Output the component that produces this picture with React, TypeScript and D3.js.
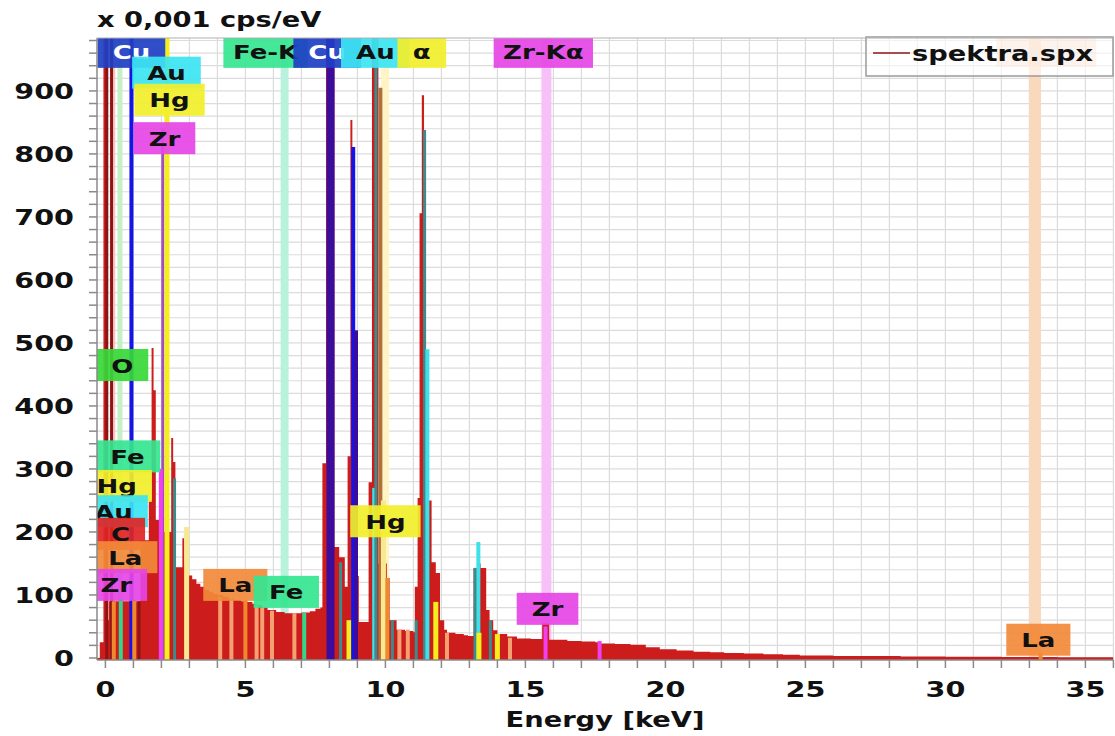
import React from 'react'
import * as d3 from 'd3'

// spectrum: [keV, counts] (step after)
const spectrum: [number, number][] = [
  [-0.3, 0], [-0.2, 25], [-0.07, 984], [0.05, 60], [0.12, 90], [1.25, 187],
  [1.55, 250], [1.65, 492], [1.72, 425], [1.8, 219], [2.05, 200], [2.35, 349],
  [2.42, 311], [2.5, 144], [2.7, 144], [2.75, 190], [2.82, 150], [2.95, 131],
  [3.1, 125], [3.25, 118], [3.39, 113], [3.55, 108], [3.7, 105], [3.85, 102],
  [4.0, 100], [4.21, 97], [4.4, 94], [4.6, 92], [4.85, 90], [5.07, 89],
  [5.25, 86], [5.4, 84], [5.6, 80], [5.79, 76], [6.1, 73], [6.4, 71],
  [6.61, 71], [7.0, 72], [7.3, 74], [7.5, 78], [7.68, 80], [7.75, 309],
  [7.88, 984], [8.18, 176], [8.35, 160], [8.55, 113], [8.65, 320], [8.75, 854],
  [8.82, 520], [8.9, 420], [9.0, 130], [9.05, 57], [9.4, 279], [9.52, 984],
  [9.75, 150], [9.85, 150], [10.05, 127], [10.15, 60], [10.4, 45], [10.7, 43],
  [11.0, 41], [11.05, 113], [11.15, 254], [11.22, 706], [11.3, 893], [11.38, 636],
  [11.45, 400], [11.55, 250], [11.65, 152], [11.8, 135], [11.95, 60], [12.1, 45],
  [12.2, 40], [12.5, 38], [12.8, 36], [12.95, 35], [13.15, 143], [13.3, 150],
  [13.4, 143], [13.6, 76], [13.72, 60], [13.85, 44], [14.0, 38], [14.35, 34],
  [14.7, 31], [15.2, 30], [15.6, 55], [15.85, 29], [16.5, 27], [17.0, 26],
  [17.5, 25], [17.6, 27], [17.7, 23], [18.2, 22], [18.75, 21], [19.3, 17],
  [19.8, 14], [20.4, 12], [21, 10], [21.6, 9], [22.1, 8], [22.8, 7], [23.5, 6],
  [24.2, 5], [24.8, 4], [26, 3], [27.2, 3], [28.4, 2.5], [30, 2], [32, 1.5],
  [34, 1], [36, 1]
]

// element line markers: [keV, counts, kind]
const lineMarkers: [number, number, string][] = [
  [0.05, 984, 'darkred'], [0.22, 984, 'darkred'], [0.3, 90, 'la'], [0.55, 92, 'fe'],
  [0.93, 984, 'cuL'], [1.03, 92, 'la'], [1.2, 90, 'darkred'], [2.05, 840, 'zr'],
  [1.98, 300, 'zrP'], [2.2, 984, 'hg'], [2.47, 285, 'auD'], [2.9, 208, 'hgL'],
  [4.1, 97, 'laL'], [4.5, 95, 'laL'], [5.0, 92, 'la'], [5.4, 84, 'laL'],
  [5.6, 80, 'laL'], [5.95, 75, 'laL'], [6.75, 71, 'laL'], [7.1, 72, 'fe'],
  [8.04, 984, 'cuK'], [8.4, 152, 'auD'], [8.7, 60, 'hg'], [8.85, 811, 'cuL'],
  [8.95, 520, 'cuKb'], [9.6, 270, 'au'], [9.66, 984, 'auD'], [9.82, 905, 'brown'],
  [9.93, 250, 'hgL'], [10.07, 127, 'la'], [10.25, 60, 'auD'], [10.5, 45, 'laL'],
  [10.8, 45, 'laL'], [11.1, 60, 'auD'], [11.4, 838, 'auD'], [11.5, 490, 'au'],
  [11.8, 89, 'hg'], [12.2, 40, 'laL'], [13.2, 143, 'auD'], [13.32, 184, 'au'],
  [13.34, 40, 'hg'], [13.75, 60, 'auD'], [14.0, 38, 'hg'], [14.45, 32, 'laL'],
  [15.72, 50, 'zrP'], [17.65, 27, 'zrP'], [33.4, 8, 'la']
]

// full height line bands: [keV, element]
const lineBands: [number, string][] = [
  [0.28, 'c'], [0.52, 'o'], [6.4, 'fe'], [9.99, 'hg'], [15.75, 'zr'], [33.2, 'la']
]

// element labels: [text, element, keV, counts]
const elementLabels: [string, string, number, number][] = [
  ['Cu', 'cu', 0.93, 962], ['Au', 'au', 2.18, 929], ['Hg', 'hg', 2.29, 886],
  ['Zr', 'zr', 2.11, 825], ['Fe-K', 'fe', 5.72, 962], ['Cu', 'cu', 7.92, 962],
  ['Au', 'au', 9.64, 962], ['α', 'hg', 11.3, 962], ['Zr-Kα', 'zr', 15.64, 962],
  ['O', 'o', 0.6, 465], ['Fe', 'fe', 0.79, 320], ['Hg', 'hg', 0.4, 273],
  ['Au', 'au', 0.29, 233], ['C', 'c', 0.54, 197], ['La', 'la', 0.71, 160],
  ['Zr', 'zr', 0.39, 116], ['La', 'la', 4.64, 116], ['Fe', 'fe', 6.46, 105],
  ['Hg', 'hg', 10.0, 217], ['Zr', 'zr', 15.79, 78], ['La', 'la', 33.32, 29]
]

const yTicks = [0, 100, 200, 300, 400, 500, 600, 700, 800, 900]
const xTicks = [0, 5, 10, 15, 20, 25, 30, 35]

const boxColor: Record<string, string> = {
  cu: '#1f3fc4', au: '#3ce4f2', hg: '#f2ef2a', zr: '#e545e5',
  fe: '#35e590', o: '#38d838', c: '#e02525', la: '#f28a3a'
}
const bandColor: Record<string, string> = {
  c: '#f8c4c4', o: '#c4f0c8', fe: '#b8f2dc', hg: '#fff4c4', zr: '#f8c0f8', la: '#fad8bc'
}
const bandWidth: Record<string, number> = { c: 4, o: 5, fe: 8, hg: 8, zr: 10, la: 12 }
const markerStyle: Record<string, [string, number]> = {
  darkred: ['#8e1414', 3], cuK: ['#3c0c9c', 8], cuKb: ['#3c0c9c', 4], cuL: ['#1414e6', 4],
  au: ['#3ee0ea', 4], auD: ['#3b8c8c', 3], hg: ['#f5ee1c', 5], hgL: ['#f8e890', 5],
  zr: ['#a050b8', 3], zrP: ['#f040f0', 4], la: ['#f0882e', 4], laL: ['#f4a070', 4],
  fe: ['#33d68a', 4], brown: ['#b0703c', 4]
}
// bold glyph advance widths (em), for sizing the label boxes
const glyphEm: Record<string, number> = {
  C: 0.734, u: 0.712, A: 0.774, H: 0.837, g: 0.716, Z: 0.725, r: 0.493, F: 0.683,
  e: 0.678, '-': 0.415, K: 0.775, 'α': 0.72, O: 0.85, L: 0.637, a: 0.675
}

const W = 1115
const H = 736
const left = 97
const right = 1113.4
const top = 38
const bottom = 660
const font = '"DejaVu Sans", Verdana, sans-serif'
const SX = 1.3
const labelSize = 20

const Txt = ({ x, y, size, anchor = 'start', fill = '#111', children }: any) => (
  <text transform={`translate(${x},${y}) scale(${SX},1)`} fontSize={size} fontWeight="bold"
    fontFamily={font} textAnchor={anchor} fill={fill}>{children}</text>
)

const textWidth = (t: string, size: number) =>
  t.split('').reduce((s, ch) => s + (glyphEm[ch] ?? 0.7), 0) * size * SX

export default function App() {
  const x = d3.scaleLinear().domain([-0.3, 36]).range([left, right])
  const y = d3.scaleLinear().domain([-3.2, 984]).range([bottom, top])

  const area = d3.area<[number, number]>()
    .x(d => x(d[0]))
    .y0(bottom)
    .y1(d => y(d[1]))
    .curve(d3.curveStepAfter)

  const minorX = d3.range(0, 37, 1)
  const minorY = d3.range(0, 984, 20)

  return (
    <svg width={W} height={H} style={{ position: 'absolute', left: 0, top: 0, background: '#fff' }}>
      <defs>
        <clipPath id="plot">
          <rect x={left} y={top} width={right - left} height={bottom - top} />
        </clipPath>
      </defs>

      {/* grid */}
      <g stroke="#dcdcdc" strokeWidth={1.2}>
        {minorX.map(k => <line key={'gx' + k} x1={x(k)} x2={x(k)} y1={top} y2={bottom} />)}
        {minorY.map(v => <line key={'gy' + v} x1={left} x2={right} y1={y(v)} y2={y(v)} />)}
      </g>

      <g clipPath="url(#plot)">
        {lineBands.map(([k, el], i) => (
          <rect key={'b' + i} x={x(k) - bandWidth[el] / 2} y={top} width={bandWidth[el]}
            height={bottom - top} fill={bandColor[el]} />
        ))}
        <path d={area(spectrum) || ''} fill="#cc1c1c" />
        {lineMarkers.map(([k, v, kind], i) => {
          const [c, w] = markerStyle[kind]
          return <rect key={'m' + i} x={x(k) - w / 2} y={y(v)} width={w} height={bottom - y(v)} fill={c} />
        })}

        {elementLabels.map(([t, el, k, v], i) => {
          const w = textWidth(t, labelSize) + (t.length > 3 ? 18 : 30)
          const cx = x(k)
          const cy = y(v)
          return (
            <g key={'l' + i}>
              <rect x={cx - w / 2} y={cy - 16} width={w} height={32} fill={boxColor[el]} opacity={0.92} />
              <Txt x={cx} y={cy + 7.5} size={labelSize} anchor="middle" fill={el === 'cu' ? '#fff' : '#111'}>{t}</Txt>
            </g>
          )
        })}
      </g>

      {/* faint La-Kα label behind legend */}
      <g opacity={0.4}>
        <rect x={x(33.6) - 50} y={38} width={100} height={29} fill="#f6b98a" />
        <Txt x={x(33.6)} y={59} size={18} anchor="middle" fill="#c4c4c4">La-Kα</Txt>
      </g>

      {/* legend */}
      <rect x={866} y={37} width={247} height={39} fill="#fff" fillOpacity={0.6} stroke="#9a9a9a" strokeWidth={1.5} />
      <line x1={873} x2={910} y1={53} y2={53} stroke="#8e1414" strokeWidth={1.5} />
      <Txt x={912} y={61} size={21}>spektra.spx</Txt>

      {/* axes */}
      <line x1={left} x2={left} y1={top} y2={bottom} stroke="#8a8a8a" strokeWidth={1.5} />
      <line x1={left} x2={right} y1={bottom} y2={bottom} stroke="#8a8a8a" strokeWidth={1.5} />
      <line x1={left} x2={right} y1={top} y2={top} stroke="#b0b0b0" strokeWidth={1} />
      <g stroke="#8a8a8a" strokeWidth={1.5}>
        {minorY.map(v => <line key={'ty' + v} x1={left - 8} x2={left} y1={y(v)} y2={y(v)} />)}
        {minorX.map(k => <line key={'tx' + k} x1={x(k)} x2={x(k)} y1={bottom} y2={bottom + 8} />)}
      </g>
      {yTicks.map(v => (
        <Txt key={'yl' + v} x={74} y={y(v) + 8} size={22} anchor="end">{v}</Txt>
      ))}
      {xTicks.map(k => (
        <Txt key={'xl' + k} x={x(k)} y={697} size={22} anchor="middle">{k}</Txt>
      ))}
      <Txt x={605} y={727} size={21} anchor="middle">Energy [keV]</Txt>
      <Txt x={97} y={27} size={21}>x 0,001 cps/eV</Txt>
    </svg>
  )
}
